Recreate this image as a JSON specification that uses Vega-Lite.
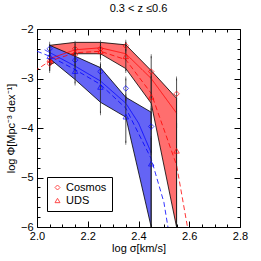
{
  "$schema": "https://vega.github.io/schema/vega-lite/v6.json",
  "autosize": "none",
  "padding": {"left": 37, "top": 29, "right": 21, "bottom": 34},
  "width": 203,
  "height": 198,
  "background": "white",
  "title": {"text": "0.3 < z ≤0.6", "font": "Liberation Sans", "fontSize": 11, "fontWeight": "normal", "offset": 9, "color": "black"},
  "config": {
    "view": {"stroke": null},
    "axis": {"grid": false, "labelFlush": false, "domainColor": "black", "tickColor": "black", "labelColor": "black", "titleColor": "black", "labelFont": "Liberation Sans", "titleFont": "Liberation Sans", "labelFontSize": 11, "titleFontSize": 11, "titleFontWeight": "normal", "domainWidth": 1, "tickWidth": 1},
    "legend": {"labelFont": "Liberation Sans", "labelFontSize": 11, "labelColor": "black"}
  },
  "datasets": {
    "bands": [
      {"pop": "red", "x": 2.05, "lo": -2.72, "hi": -2.33},
      {"pop": "red", "x": 2.15, "lo": -2.5, "hi": -2.27},
      {"pop": "red", "x": 2.25, "lo": -2.5, "hi": -2.27},
      {"pop": "red", "x": 2.35, "lo": -2.8, "hi": -2.32},
      {"pop": "red", "x": 2.45, "lo": -3.5, "hi": -2.84},
      {"pop": "red", "x": 2.55, "lo": -6, "hi": -3.4},
      {"pop": "blue", "x": 2.05, "lo": -2.6, "hi": -2.33},
      {"pop": "blue", "x": 2.15, "lo": -3.02, "hi": -2.55},
      {"pop": "blue", "x": 2.25, "lo": -3.48, "hi": -2.78},
      {"pop": "blue", "x": 2.35, "lo": -3.78, "hi": -3.38},
      {"pop": "blue", "x": 2.45, "lo": -6, "hi": -3.68}
    ],
    "fits": [
      {"pop": "blue", "kind": "solid", "x": 2.03, "y": -2.42},
      {"pop": "blue", "kind": "solid", "x": 2.15, "y": -2.75},
      {"pop": "blue", "kind": "solid", "x": 2.25, "y": -3.05},
      {"pop": "blue", "kind": "solid", "x": 2.35, "y": -3.5},
      {"pop": "blue", "kind": "solid", "x": 2.4, "y": -3.9},
      {"pop": "blue", "kind": "solid", "x": 2.45, "y": -4.5},
      {"pop": "blue", "kind": "dashed", "x": 2.0, "y": -2.45},
      {"pop": "blue", "kind": "dashed", "x": 2.05, "y": -2.55},
      {"pop": "blue", "kind": "dashed", "x": 2.15, "y": -2.82},
      {"pop": "blue", "kind": "dashed", "x": 2.25, "y": -3.12},
      {"pop": "blue", "kind": "dashed", "x": 2.35, "y": -3.6},
      {"pop": "blue", "kind": "dashed", "x": 2.45, "y": -4.62},
      {"pop": "blue", "kind": "dashed", "x": 2.5, "y": -5.5},
      {"pop": "blue", "kind": "dashed", "x": 2.516, "y": -6},
      {"pop": "red", "kind": "solid", "x": 2.05, "y": -2.6},
      {"pop": "red", "kind": "solid", "x": 2.15, "y": -2.42},
      {"pop": "red", "kind": "solid", "x": 2.25, "y": -2.38},
      {"pop": "red", "kind": "solid", "x": 2.35, "y": -2.5},
      {"pop": "red", "kind": "solid", "x": 2.45, "y": -3.0},
      {"pop": "red", "kind": "solid", "x": 2.55, "y": -3.7},
      {"pop": "red", "kind": "dashed", "x": 1.99, "y": -2.85},
      {"pop": "red", "kind": "dashed", "x": 2.05, "y": -2.65},
      {"pop": "red", "kind": "dashed", "x": 2.15, "y": -2.48},
      {"pop": "red", "kind": "dashed", "x": 2.25, "y": -2.45},
      {"pop": "red", "kind": "dashed", "x": 2.35, "y": -2.62},
      {"pop": "red", "kind": "dashed", "x": 2.45, "y": -3.3},
      {"pop": "red", "kind": "dashed", "x": 2.55, "y": -4.75},
      {"pop": "red", "kind": "dashed", "x": 2.593, "y": -6}
    ],
    "pts": [
      {"pop": "red", "survey": "Cosmos", "x": 2.05, "y": -2.7, "lo": -2.85, "hi": -2.55},
      {"pop": "red", "survey": "Cosmos", "x": 2.15, "y": -2.4, "lo": -2.55, "hi": -2.28},
      {"pop": "red", "survey": "Cosmos", "x": 2.25, "y": -2.4, "lo": -2.55, "hi": -2.27},
      {"pop": "red", "survey": "Cosmos", "x": 2.35, "y": -2.34, "lo": -2.45, "hi": -2.26},
      {"pop": "red", "survey": "Cosmos", "x": 2.45, "y": -2.86, "lo": -3.4, "hi": -2.55},
      {"pop": "red", "survey": "Cosmos", "x": 2.55, "y": -3.31, "lo": -4.0, "hi": -3.0},
      {"pop": "red", "survey": "UDS", "x": 2.05, "y": -2.62, "lo": -2.8, "hi": -2.45},
      {"pop": "red", "survey": "UDS", "x": 2.15, "y": -2.48, "lo": -2.62, "hi": -2.35},
      {"pop": "red", "survey": "UDS", "x": 2.25, "y": -2.45, "lo": -2.6, "hi": -2.33},
      {"pop": "red", "survey": "UDS", "x": 2.35, "y": -2.55, "lo": -2.85, "hi": -2.3},
      {"pop": "red", "survey": "UDS", "x": 2.45, "y": -3.37, "lo": -4.0, "hi": -2.95},
      {"pop": "red", "survey": "UDS", "x": 2.55, "y": -4.46, "lo": -6, "hi": -3.9},
      {"pop": "blue", "survey": "Cosmos", "x": 2.05, "y": -2.4, "lo": -2.5, "hi": -2.3},
      {"pop": "blue", "survey": "Cosmos", "x": 2.15, "y": -2.63, "lo": -2.75, "hi": -2.5},
      {"pop": "blue", "survey": "Cosmos", "x": 2.25, "y": -2.86, "lo": -3.05, "hi": -2.7},
      {"pop": "blue", "survey": "Cosmos", "x": 2.35, "y": -3.2, "lo": -3.45, "hi": -3.0},
      {"pop": "blue", "survey": "Cosmos", "x": 2.45, "y": -3.97, "lo": -4.5, "hi": -3.6},
      {"pop": "blue", "survey": "UDS", "x": 2.05, "y": -2.55, "lo": -2.7, "hi": -2.4},
      {"pop": "blue", "survey": "UDS", "x": 2.15, "y": -2.85, "lo": -3.1, "hi": -2.65},
      {"pop": "blue", "survey": "UDS", "x": 2.25, "y": -3.17, "lo": -3.7, "hi": -2.75},
      {"pop": "blue", "survey": "UDS", "x": 2.35, "y": -3.77, "lo": -4.3, "hi": -3.35},
      {"pop": "blue", "survey": "UDS", "x": 2.45, "y": -4.72, "lo": -6, "hi": -4.2}
    ]
  },
  "resolve": {"axis": {"x": "independent", "y": "independent"}},
  "layer": [
    {
      "data": {"name": "bands"},
      "transform": [{"filter": "datum.pop === 'red'"}],
      "mark": {"type": "area", "fill": "#ff6e6e", "stroke": "black", "strokeWidth": 0.8, "clip": true},
      "encoding": {
        "x": {"field": "x", "type": "quantitative", "scale": {"domain": [2.0, 2.8], "nice": false, "zero": false},
              "axis": {"orient": "bottom", "values": [2.0, 2.2, 2.4, 2.6, 2.8], "format": ".1f", "tickSize": -6, "labelPadding": 9, "title": "log σ[km/s]", "titlePadding": 1}},
        "y": {"field": "hi", "type": "quantitative", "scale": {"domain": [-6, -2], "nice": false, "zero": false},
              "axis": {"orient": "left", "values": [-6, -5, -4, -3, -2], "format": "d", "tickSize": -6, "labelPadding": 10, "title": "log Φ[Mpc⁻³ dex⁻¹]", "titlePadding": 4}},
        "y2": {"field": "lo"}
      }
    },
    {
      "data": {"name": "bands"},
      "transform": [{"filter": "datum.pop === 'blue'"}],
      "mark": {"type": "area", "fill": "#6464f5", "stroke": "black", "strokeWidth": 0.8, "clip": true},
      "encoding": {
        "x": {"field": "x", "type": "quantitative",
              "axis": {"orient": "bottom", "values": [2.05, 2.1, 2.15, 2.25, 2.3, 2.35, 2.45, 2.5, 2.55, 2.65, 2.7, 2.75], "labels": false, "tickSize": -3, "domain": false, "title": null}},
        "y": {"field": "hi", "type": "quantitative",
              "axis": {"orient": "left", "values": [-5.8, -5.6, -5.4, -5.2, -4.8, -4.6, -4.4, -4.2, -3.8, -3.6, -3.4, -3.2, -2.8, -2.6, -2.4, -2.2], "labels": false, "tickSize": -3, "domain": false, "title": null}},
        "y2": {"field": "lo"}
      }
    },
    {
      "data": {"name": "fits"},
      "transform": [{"filter": "datum.pop === 'blue'"}],
      "mark": {"type": "line", "strokeWidth": 0.8, "clip": true, "color": "#0000ff"},
      "encoding": {
        "x": {"field": "x", "type": "quantitative", "axis": null},
        "y": {"field": "y", "type": "quantitative", "axis": null},
        "strokeDash": {"field": "kind", "type": "nominal", "scale": {"domain": ["solid", "dashed"], "range": [[1, 0], [5, 3]]}, "legend": null},
        "order": {"field": "x", "type": "quantitative"}
      }
    },
    {
      "data": {"name": "fits"},
      "transform": [{"filter": "datum.pop === 'red'"}],
      "mark": {"type": "line", "strokeWidth": 0.8, "clip": true, "color": "#ff0000"},
      "encoding": {
        "x": {"field": "x", "type": "quantitative", "axis": null},
        "y": {"field": "y", "type": "quantitative", "axis": null},
        "strokeDash": {"field": "kind", "type": "nominal", "legend": null},
        "order": {"field": "x", "type": "quantitative"}
      }
    },
    {
      "data": {"name": "pts"},
      "mark": {"type": "rule", "color": "#222222", "strokeWidth": 0.8},
      "encoding": {
        "x": {"field": "x", "type": "quantitative",
              "axis": {"orient": "top", "values": [2.0, 2.2, 2.4, 2.6, 2.8], "labels": false, "tickSize": -6, "title": null}},
        "y": {"field": "hi", "type": "quantitative",
              "axis": {"orient": "right", "values": [-6, -5, -4, -3, -2], "labels": false, "tickSize": -6, "title": null}},
        "y2": {"field": "lo"}
      }
    },
    {
      "data": {"name": "pts"},
      "mark": {"type": "tick", "color": "#222222", "thickness": 0.8, "size": 4},
      "encoding": {
        "x": {"field": "x", "type": "quantitative",
              "axis": {"orient": "top", "values": [2.05, 2.1, 2.15, 2.25, 2.3, 2.35, 2.45, 2.5, 2.55, 2.65, 2.7, 2.75], "labels": false, "tickSize": -3, "domain": false, "title": null}},
        "y": {"field": "hi", "type": "quantitative",
              "axis": {"orient": "right", "values": [-5.8, -5.6, -5.4, -5.2, -4.8, -4.6, -4.4, -4.2, -3.8, -3.6, -3.4, -3.2, -2.8, -2.6, -2.4, -2.2], "labels": false, "tickSize": -3, "domain": false, "title": null}}
      }
    },
    {
      "data": {"name": "pts"},
      "mark": {"type": "tick", "color": "#222222", "thickness": 0.8, "size": 4, "clip": true},
      "encoding": {
        "x": {"field": "x", "type": "quantitative", "axis": null},
        "y": {"field": "lo", "type": "quantitative", "axis": null}
      }
    },
    {
      "data": {"name": "pts"},
      "mark": {"type": "point", "filled": false, "strokeWidth": 1, "size": 30},
      "encoding": {
        "x": {"field": "x", "type": "quantitative", "axis": null},
        "y": {"field": "y", "type": "quantitative", "axis": null},
        "color": {"field": "pop", "type": "nominal", "scale": {"domain": ["blue", "red"], "range": ["#0000ff", "#ff0000"]}, "legend": null},
        "shape": {"field": "survey", "type": "nominal", "scale": {"domain": ["Cosmos", "UDS"], "range": ["diamond", "triangle-up"]},
                  "legend": {"title": null, "orient": "none", "legendX": 10, "legendY": 148, "strokeColor": "black", "fillColor": "white", "padding": 5, "symbolStrokeColor": "#ff0000", "symbolFillColor": "transparent", "symbolSize": 25, "symbolStrokeWidth": 1, "labelOffset": 3, "rowPadding": 1, "labelFontSize": 11}}
      }
    }
  ]
}
